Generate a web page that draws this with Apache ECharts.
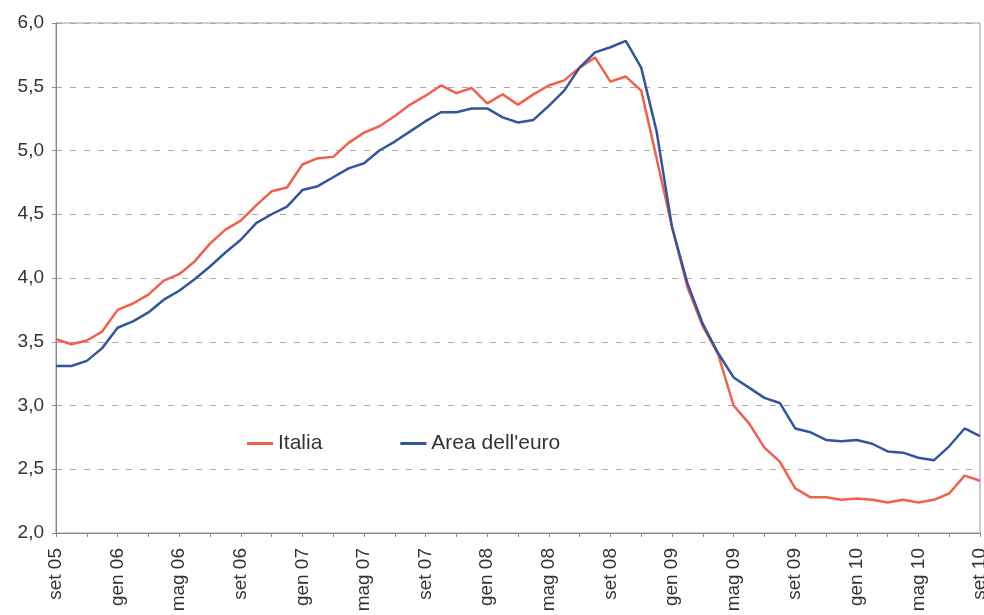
<!DOCTYPE html>
<html>
<head>
<meta charset="utf-8">
<script src="https://cdn.jsdelivr.net/npm/echarts@6/dist/echarts.min.js"></script>
<style>
  html, body { margin: 0; padding: 0; background: #fff; }
  #chart { width: 984px; height: 615px; }
</style>
</head>
<body>
<div id="chart"></div>
<script>
// mesi da set 05 a set 10
const months = [
  'set 05', 'ott 05', 'nov 05', 'dic 05',
  'gen 06', 'feb 06', 'mar 06', 'apr 06', 'mag 06', 'giu 06', 'lug 06', 'ago 06', 'set 06', 'ott 06', 'nov 06', 'dic 06',
  'gen 07', 'feb 07', 'mar 07', 'apr 07', 'mag 07', 'giu 07', 'lug 07', 'ago 07', 'set 07', 'ott 07', 'nov 07', 'dic 07',
  'gen 08', 'feb 08', 'mar 08', 'apr 08', 'mag 08', 'giu 08', 'lug 08', 'ago 08', 'set 08', 'ott 08', 'nov 08', 'dic 08',
  'gen 09', 'feb 09', 'mar 09', 'apr 09', 'mag 09', 'giu 09', 'lug 09', 'ago 09', 'set 09', 'ott 09', 'nov 09', 'dic 09',
  'gen 10', 'feb 10', 'mar 10', 'apr 10', 'mag 10', 'giu 10', 'lug 10', 'ago 10', 'set 10'
]

const italia = [
  3.52, 3.48, 3.51, 3.58, 3.75, 3.80, 3.87, 3.98, 4.03, 4.13,
  4.27, 4.38, 4.45, 4.57, 4.68, 4.71, 4.89, 4.94, 4.95, 5.06,
  5.14, 5.19, 5.27, 5.36, 5.43, 5.51, 5.45, 5.49, 5.37, 5.44,
  5.36, 5.44, 5.51, 5.55, 5.65, 5.73, 5.54, 5.58, 5.47, 4.94,
  4.40, 3.93, 3.62, 3.40, 3.00, 2.86, 2.67, 2.56, 2.35, 2.28,
  2.28, 2.26, 2.27, 2.26, 2.24, 2.26, 2.24, 2.26, 2.31, 2.45,
  2.41
]

const areaEuro = [
  3.31, 3.31, 3.35, 3.45, 3.61, 3.66, 3.73, 3.83, 3.90, 3.99,
  4.09, 4.20, 4.30, 4.43, 4.50, 4.56, 4.69, 4.72, 4.79, 4.86,
  4.90, 5.00, 5.07, 5.15, 5.23, 5.30, 5.30, 5.33, 5.33, 5.26,
  5.22, 5.24, 5.35, 5.47, 5.65, 5.77, 5.81, 5.86, 5.65, 5.15,
  4.40, 3.96, 3.64, 3.41, 3.22, 3.14, 3.06, 3.02, 2.82, 2.79,
  2.73, 2.72, 2.73, 2.70, 2.64, 2.63, 2.59, 2.57, 2.68, 2.82,
  2.76
]

const chart = echarts.init(document.getElementById('chart'))

const option = {
  animation: false,
  backgroundColor: '#fff',
  textStyle: { fontFamily: 'Liberation Sans, Arial, sans-serif' },
  grid: {
    left: 56,
    right: 4,
    top: 23,
    bottom: 82,
    outerBoundsMode: 'none',
    show: true,
    borderColor: '#9a9a9a',
    borderWidth: 1
  },
  legend: {
    left: 242,
    top: 428,
    itemWidth: 26,
    itemHeight: 3,
    itemGap: 78,
    icon: 'rect',
    textStyle: { fontSize: 21, color: '#333', fontFamily: 'Liberation Sans, Arial, sans-serif' },
    data: ['Italia', "Area dell'euro"]
  },
  xAxis: {
    type: 'category',
    data: months,
    boundaryGap: false,
    axisLine: { lineStyle: { color: '#8a8a8a' } },
    axisTick: { interval: 1, length: 4, lineStyle: { color: '#8a8a8a' } },
    axisLabel: {
      interval: 3,
      rotate: 90,
      margin: 15,
      fontSize: 19,
      color: '#333'
    },
    splitLine: { show: false }
  },
  yAxis: {
    type: 'value',
    min: 2,
    max: 6,
    interval: 0.5,
    axisLine: { show: true, lineStyle: { color: '#8a8a8a' } },
    axisTick: { show: true, length: 4, lineStyle: { color: '#8a8a8a' } },
    axisLabel: {
      fontSize: 19,
      color: '#333',
      margin: 12,
      formatter: v => v.toFixed(1).replace('.', ',')
    },
    splitLine: { lineStyle: { color: '#a8a8a8', type: [6, 8] } }
  },
  series: [
    {
      name: 'Italia',
      type: 'line',
      data: italia,
      symbol: 'none',
      color: '#f0604a',
      lineStyle: { width: 2.5, color: '#f0604a' }
    },
    {
      name: "Area dell'euro",
      type: 'line',
      data: areaEuro,
      symbol: 'none',
      color: '#34559e',
      lineStyle: { width: 2.5, color: '#34559e' }
    }
  ]
}

chart.setOption(option)
</script>
</body>
</html>
